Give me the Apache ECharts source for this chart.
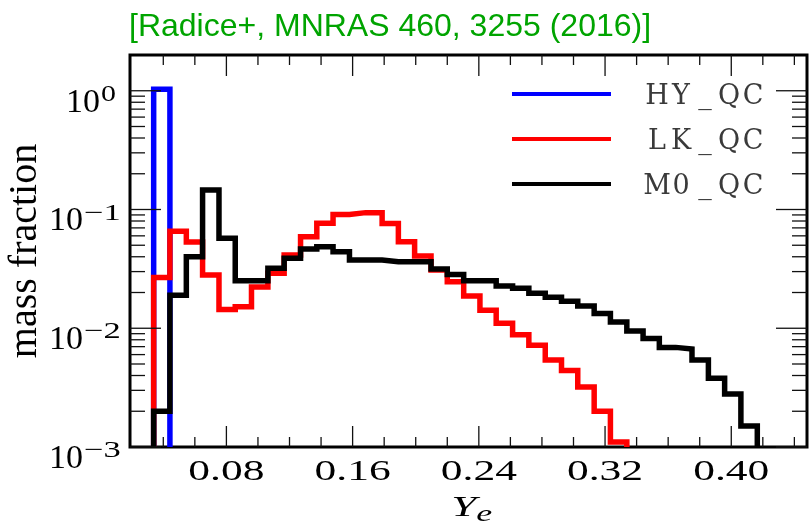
<!DOCTYPE html>
<html><head><meta charset="utf-8">
<script src="https://cdn.jsdelivr.net/npm/echarts@6/dist/echarts.min.js"></script>
<style>html,body{margin:0;padding:0;background:#fff}#c{width:810px;height:524px}</style>
</head><body><div id="c"></div>
<script>
// ---- data ----
const binEdges = [0.0339, 0.0442, 0.0546, 0.0649, 0.0753, 0.0856, 0.0959, 0.1063, 0.1166, 0.1270,
  0.1373, 0.1476, 0.1580, 0.1683, 0.1787, 0.1890, 0.1993, 0.2097, 0.2200, 0.2304,
  0.2407, 0.2510, 0.2614, 0.2717, 0.2821, 0.2924, 0.3027, 0.3131, 0.3234, 0.3338,
  0.3441, 0.3544, 0.3648, 0.3751, 0.3855, 0.3958, 0.4061, 0.4165];
const hyValues = [1.03];
const lkValues = [0.0268, 0.0656, 0.0533, 0.0281, 0.0144, 0.0152, 0.0222, 0.0290, 0.0414, 0.0590,
  0.0766, 0.0908, 0.0941, 0.0941, 0.0762, 0.0536, 0.0406, 0.0309, 0.0246, 0.0187,
  0.0142, 0.0110, 0.0088, 0.0072, 0.0054, 0.0044, 0.0032, 0.0020, 0.0011];
const m0Values = [0.0020, 0.0190, 0.0400, 0.146, 0.0572, 0.0251, 0.0251, 0.0320, 0.0388, 0.0465,
  0.0486, 0.0441, 0.0376, 0.0376, 0.0363, 0.0363, 0.0363, 0.0315, 0.0284, 0.0251,
  0.0251, 0.0227, 0.0217, 0.0197, 0.0182, 0.0169, 0.0154, 0.0133, 0.0113, 0.0095,
  0.0082, 0.0069, 0.0067, 0.0054, 0.0038, 0.0028, 0.0015];
const seriesNames = ['HY_QC', 'LK_QC', 'M0_QC'];
const seriesColors = ['#0000ff', '#ff0000', '#000000'];
const xMin = 0.0189, xMax = 0.448;
const yMin = 0.001, yMax = 2;
const xMajorTicks = [0.08, 0.16, 0.24, 0.32, 0.40];
const xTickLabels = ['0.08', '0.16', '0.24', '0.32', '0.40'];
const xMinorTicks = [0.04, 0.06, 0.10, 0.12, 0.14, 0.18, 0.20, 0.22, 0.26, 0.28, 0.30, 0.34, 0.36, 0.38, 0.42, 0.44];
const yMajorTicks = [0.001, 0.01, 0.1, 1];
const yTickExponents = ['\u22123', '\u22122', '\u22121', '0'];
const yMinorTicks = [0.002, 0.003, 0.004, 0.005, 0.006, 0.007, 0.008, 0.009,
  0.02, 0.03, 0.04, 0.05, 0.06, 0.07, 0.08, 0.09,
  0.2, 0.3, 0.4, 0.5, 0.6, 0.7, 0.8, 0.9];
const titleText = '[Radice+, MNRAS 460, 3255 (2016)]';
const xAxisTitle = ['Y', 'e'];
const yAxisTitle = 'mass fraction';

// step-histogram outline (matplotlib histtype="step")
function stepData(values) {
  const pts = [[binEdges[0], yMin]];
  values.forEach((v, i) => pts.push([binEdges[i], v]));
  pts.push([binEdges[values.length], values[values.length - 1]]);
  pts.push([binEdges[values.length], yMin]);
  return pts;
}

const serif = '"Liberation Serif", "Times New Roman", serif';

function renderAxes(params, api) {
  const ch = [];
  const ls = { stroke: '#111', lineWidth: 1.3 };
  const yB = api.coord([xMin, yMin])[1], yT = api.coord([xMin, yMax])[1];
  const xL = api.coord([xMin, yMin])[0], xR = api.coord([xMax, yMin])[0];
  xMinorTicks.forEach(v => {
    const x = api.coord([v, yMin])[0];
    ch.push({ type: 'line', shape: { x1: x, y1: yB, x2: x, y2: yB - 10 }, style: ls });
    ch.push({ type: 'line', shape: { x1: x, y1: yT, x2: x, y2: yT + 10 }, style: ls });
  });
  xMajorTicks.forEach((v, i) => {
    const x = api.coord([v, yMin])[0];
    ch.push({ type: 'line', shape: { x1: x, y1: yB, x2: x, y2: yB - 21 }, style: ls });
    ch.push({ type: 'line', shape: { x1: x, y1: yT, x2: x, y2: yT + 21 }, style: ls });
    ch.push({ type: 'text', x: x, y: yB + 25, scaleX: 1.5,
      style: { text: xTickLabels[i], font: '29px ' + serif, fill: '#000', align: 'center', verticalAlign: 'middle' } });
  });
  yMinorTicks.forEach(v => {
    const y = api.coord([xMin, v])[1];
    ch.push({ type: 'line', shape: { x1: xL, y1: y, x2: xL + 15, y2: y }, style: ls });
    ch.push({ type: 'line', shape: { x1: xR, y1: y, x2: xR - 15, y2: y }, style: ls });
  });
  yMajorTicks.forEach((v, i) => {
    const y = api.coord([xMin, v])[1];
    ch.push({ type: 'line', shape: { x1: xL, y1: y, x2: xL + 31, y2: y }, style: ls });
    ch.push({ type: 'line', shape: { x1: xR, y1: y, x2: xR - 31, y2: y }, style: ls });
    const isZero = yTickExponents[i] === '0';
    const baseRight = xL - (isZero ? 30 : 47);
    ch.push({ type: 'text', x: baseRight, y: y + 12,
      style: { text: '10', font: '34px ' + serif, fill: '#000', align: 'right', verticalAlign: 'middle' } });
    ch.push({ type: 'text', x: baseRight + 1, y: y + 4, scaleX: isZero ? 1.3 : 1.5,
      style: { text: yTickExponents[i], font: '23px ' + serif, fill: '#000', align: 'left', verticalAlign: 'middle' } });
  });
  // axis titles
  const xc = api.coord([0.225, yMin])[0];
  ch.push({ type: 'text', x: xc + 21, y: yB + 61, scaleX: 1.5,
    style: { text: xAxisTitle[0], font: 'italic 30px ' + serif, fill: '#000', align: 'right', verticalAlign: 'middle' } });
  ch.push({ type: 'text', x: xc + 21, y: yB + 68, scaleX: 1.5,
    style: { text: xAxisTitle[1], font: 'italic 24px ' + serif, fill: '#000', align: 'left', verticalAlign: 'middle' } });
  ch.push({ type: 'text', x: 25, y: (yB + yT) / 2, rotation: Math.PI / 2,
    style: { text: yAxisTitle, font: '40px ' + serif, fill: '#000', align: 'center', verticalAlign: 'middle' } });
  return { type: 'group', children: ch };
}

const lineSeries = [hyValues, lkValues, m0Values].map((vals, i) => ({
  name: seriesNames[i], type: 'line', step: 'end', data: stepData(vals),
  symbol: 'none', color: seriesColors[i], z: 3 + i,
  lineStyle: { width: 5.5, color: seriesColors[i], join: 'miter', cap: 'butt' },
  animation: false
}));

const legendFont = { fontFamily: 'DejaVu Serif', fontSize: 27, color: '#3a3a3a', lineHeight: 40 };
const chart = echarts.init(document.getElementById('c'));
chart.setOption({
  animation: false,
  backgroundColor: '#fff',
  title: { text: titleText, left: 129, top: 11, padding: 0,
    textStyle: { color: '#00a400', fontFamily: '"Liberation Sans", Arial, sans-serif', fontSize: 32, fontWeight: 'normal' } },
  legend: {
    data: seriesNames, orient: 'vertical', left: 512, top: 78, padding: 0, icon: 'rect',
    itemWidth: 99, itemHeight: 4, itemGap: 13,
    formatter: n => '{s| }' + n.split('').map(c => '{c|' + c + '}').join(''),
    textStyle: { rich: {
      s: Object.assign({ width: 29 }, legendFont),
      c: Object.assign({ width: 24, align: 'center', padding: [5, 0, 0, 0] }, legendFont)
    } }
  },
  grid: { left: 130, right: 3, top: 55, bottom: 77, show: true, borderColor: '#000', borderWidth: 3, backgroundColor: 'transparent' },
  xAxis: { type: 'value', min: xMin, max: xMax, axisLine: { show: false }, axisTick: { show: false }, axisLabel: { show: false }, splitLine: { show: false } },
  yAxis: { type: 'log', logBase: 10, min: yMin, max: yMax, axisLine: { show: false }, axisTick: { show: false }, axisLabel: { show: false }, splitLine: { show: false } },
  series: [
    ...lineSeries,
    { type: 'custom', name: 'axes', renderItem: renderAxes, data: [[0.2, 0.01]], clip: false, silent: true, z: 10, animation: false }
  ]
});
</script></body></html>
